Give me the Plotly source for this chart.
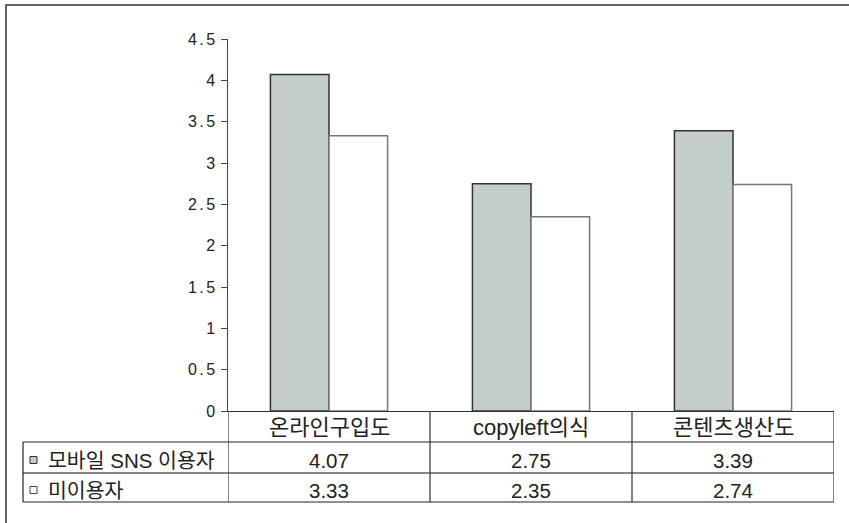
import plotly.graph_objects as go

# Survey means by group
categories = ["온라인구입도", "copyleft의식", "콘텐츠생산도"]
series_names = ["모바일 SNS 이용자", "미이용자"]
sns_users = [4.07, 2.75, 3.39]
non_users = [3.33, 2.35, 2.74]
y_ticks = [0, 0.5, 1, 1.5, 2, 2.5, 3, 3.5, 4, 4.5]

W, H = 849, 523
ML, MR, MT, MB = 228, 15, 39, 112
PW, PH = W - ML - MR, H - MT - MB

FILL = ["#c3cdcc", "#ffffff"]
EDGE = ["#333333", "#777777"]
TXT = "#222222"
FONT = "Liberation Sans, Noto Sans CJK KR, sans-serif"


def px(x):
    return (x - ML) / PW


def py(y):
    return (H - MB - y) / PH


fig = go.Figure()
for name, vals, fill, edge in zip(series_names, [sns_users, non_users], FILL, EDGE):
    fig.add_trace(go.Bar(
        x=categories, y=vals, name=name,
        marker=dict(color=fill, line=dict(color=edge, width=1.5)),
        hoverinfo="x+y",
    ))

shapes = []
ann = []

# outer frame (clipped at right/bottom)
shapes.append(dict(type="rect", xref="paper", yref="paper",
                   x0=px(6), x1=px(900), y0=py(5), y1=py(620),
                   line=dict(color="#333333", width=1.5), layer="below"))

# data-table grid below the plot
row_lines = [442, 473, 502]
for i, yy in enumerate(row_lines):
    shapes.append(dict(type="line", xref="paper", yref="paper",
                       x0=px(23), x1=1, y0=py(yy), y1=py(yy),
                       line=dict(color="#888888" if i == 1 else "#222222",
                                 width=2 if i == 1 else 1.2)))
shapes.append(dict(type="line", xref="paper", yref="paper",
                   x0=px(23), x1=px(23), y0=py(442), y1=py(502),
                   line=dict(color="#222222", width=1.2)))
for k in range(len(categories) + 1):
    shapes.append(dict(type="line", xref="x", yref="paper",
                       x0=k - 0.5, x1=k - 0.5, y0=0, y1=py(502),
                       line=dict(color="#333333", width=1.2)))

# category header row
for c in categories:
    ann.append(dict(x=c, y=py(427), xref="x", yref="paper", text=c,
                    yanchor="middle", showarrow=False,
                    font=dict(size=22, color=TXT, family=FONT)))

# value rows with legend keys
row_centers = [460, 490]
for name, vals, fill, edge, yc in zip(series_names, [sns_users, non_users], FILL,
                                      ["#333333", "#444444"], row_centers):
    shapes.append(dict(type="rect", xref="paper", yref="paper",
                       x0=px(30), x1=px(37), y0=py(yc - 3.5), y1=py(yc + 3.5),
                       fillcolor=fill, line=dict(color=edge, width=1)))
    ann.append(dict(x=px(46), y=py(yc), xref="paper", yref="paper", text=name,
                    xanchor="left", yanchor="middle", showarrow=False,
                    font=dict(size=20.5, color=TXT, family=FONT)))
    for c, v in zip(categories, vals):
        ann.append(dict(x=c, y=py(yc), xref="x", yref="paper", text=f"{v:.2f}",
                        yanchor="middle", showarrow=False,
                        font=dict(size=20.5, color=TXT, family=FONT)))

fig.update_layout(
    width=W, height=H,
    margin=dict(l=ML, r=MR, t=MT, b=MB),
    paper_bgcolor="white", plot_bgcolor="white",
    barmode="group", bargap=0.42, bargroupgap=0,
    showlegend=False,
    shapes=shapes, annotations=ann,
    font=dict(family=FONT, color=TXT),
    xaxis=dict(showticklabels=False, ticks="", showgrid=False,
               showline=True, linecolor="#333333", linewidth=1.2,
               range=[-0.5, 2.5], fixedrange=True),
    yaxis=dict(range=[0, 4.5], tickvals=y_ticks, ticks="outside", ticklen=6,
               tickcolor="#444444", showline=True, linecolor="#444444",
               linewidth=1.2, showgrid=False, zeroline=False,
               tickfont=dict(size=16, color=TXT, family=FONT), fixedrange=True),
)

# wider glyph spacing for the y tick labels
spacing_js = """
var gd = document.getElementById('{plot_id}');
function spaceTicks() {
  gd.querySelectorAll('.ytick text').forEach(function (t) {
    t.style.letterSpacing = '2.5px';
  });
}
spaceTicks();
gd.on('plotly_afterplot', spaceTicks);
setTimeout(spaceTicks, 50);
"""

fig.write_html("out.html", config={"displayModeBar": False}, post_script=spacing_js)
